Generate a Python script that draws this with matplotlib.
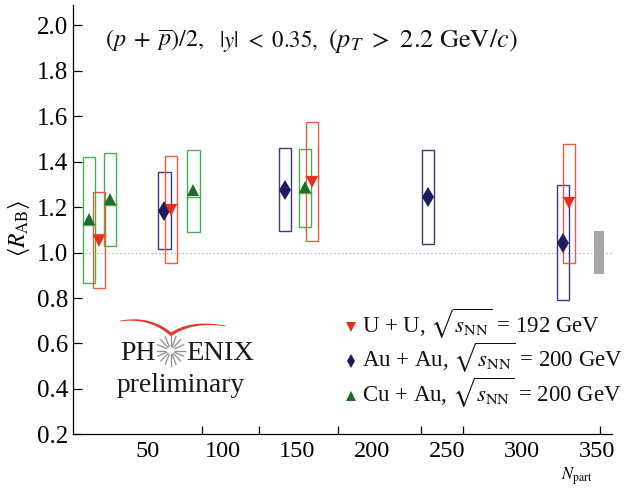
import numpy as np
import matplotlib
matplotlib.use("Agg")
import matplotlib.pyplot as plt
from matplotlib.patches import Rectangle, Polygon
from matplotlib.lines import Line2D
import matplotlib.transforms as mtransforms

plt.rcParams['font.family'] = ['Liberation Serif', 'DejaVu Serif']
plt.rcParams['mathtext.fontset'] = 'stix'

# ---------------- data ----------------
uu_npart = [17.5, 65.5, 159.6, 331.6]
uu_rab = [1.080, 1.214, 1.338, 1.246]
uu_sys_lo = [0.843, 0.953, 1.052, 0.955]
uu_sys_hi = [1.265, 1.425, 1.575, 1.479]

auau_npart = [61.3, 141.9, 237.4, 327.5]
auau_rab = [1.184, 1.275, 1.246, 1.043]
auau_sys_lo = [1.016, 1.095, 1.038, 0.791]
auau_sys_hi = [1.354, 1.461, 1.450, 1.297]

cuau_npart = [11.0, 24.8, 80.6, 155.1]
cuau_rab = [1.122, 1.209, 1.246, 1.261]
cuau_sys_lo = [0.865, 1.029, 1.090, 1.111]
cuau_sys_hi = [1.419, 1.437, 1.453, 1.456]

norm_npart = 351.5
norm_unc = 0.095

xtick_labels = [50, 100, 150, 200, 250, 300, 350]
xtick_marks = [50, 86.6, 124.6, 177.3, 232.5, 261, 352]
ytick_vals = [0.2, 0.4, 0.6, 0.8, 1.0, 1.2, 1.4, 1.6, 1.8, 2.0]

W, H = 631, 495
fig = plt.figure(figsize=(W / 100, H / 100), dpi=100)
ax = fig.add_axes([72.7 / W, 1 - 434.3 / H, (611.7 - 72.7) / W, (434.3 - 5) / H])
ax.set_xlim(0, 360)
ax.set_ylim(0.2, 2.09)

for s in ['top', 'right']:
    ax.spines[s].set_visible(False)
for s in ['left', 'bottom']:
    ax.spines[s].set_linewidth(0.9)

ax.set_yticks(ytick_vals)
ax.set_yticklabels([f"{v:.1f}" for v in ytick_vals])
ax.tick_params(axis='y', direction='in', length=6.5, width=0.9, labelsize=18, pad=3)
ax.set_xticks(xtick_labels)
ax.set_xticklabels([str(v) for v in xtick_labels])
ax.tick_params(axis='x', which='major', length=0, labelsize=17.5, pad=5)
ax.set_xticks(xtick_marks, minor=True)
ax.tick_params(axis='x', which='minor', direction='in', length=6, width=0.9)

# reference line at 1
ax.axhline(1.0, color='#b4b4b4', lw=0.8, ls=(0, (1.5, 2)), zorder=1)

box_w = 8.2
series = [
    (cuau_npart, cuau_rab, cuau_sys_lo, cuau_sys_hi, '#43b04e', '#1c6b2f', '^', 4.5),
    (auau_npart, auau_rab, auau_sys_lo, auau_sys_hi, '#3a3887', '#1f1c5e', 'd', 0.0),
    (uu_npart, uu_rab, uu_sys_lo, uu_sys_hi, '#f25a3c', '#e4301c', 'v', -4.5),
]
for npart, rab, lo, hi, bc, mc, mk, off in series:
    for x, y, l, h in zip(npart, rab, lo, hi):
        ax.add_patch(Rectangle((x - box_w / 2, l), box_w, h - l, fill=False,
                               ec=bc, lw=1.0, zorder=3))
        if mk != 'd':
            ax.plot([x - box_w / 2, x + box_w / 2], [y, y], color=bc, lw=1.0, zorder=3)
    tr = mtransforms.offset_copy(ax.transData, fig=fig, x=0, y=off, units='points')
    ms = 10.5 if mk == 'd' else 9
    ax.plot(npart, rab, ls='none', marker=mk, color=mc, ms=ms, mew=0,
            transform=tr, zorder=4)

# global normalisation uncertainty
ax.add_patch(Rectangle((norm_npart - 3.1, 1 - norm_unc), 6.2, 2 * norm_unc,
                       fc='#a9a6a6', ec='none', zorder=2))

def fx(x):
    return x / W

def fy(y):
    return 1 - y / H

# title (three chunks, wide spacing as in the original)
tkw = dict(va='baseline', ha='left', color='#111111')
fig.text(fx(105), fy(47), r'$(p\;+\;\overline{p})/2,$', fontsize=17.5, **tkw)
fig.text(fx(219), fy(47), r'$|y|\ <\ 0.35,$', fontsize=16.5, **tkw)
fig.text(fx(328), fy(47), r'$(p_T\ >\ 2.2\ \mathrm{GeV}/c)$', fontsize=19, **tkw)

# y label
fig.text(fx(19), fy(228), r'$\langle R_{\mathrm{AB}}\rangle$', rotation=90,
         fontsize=17, ha='center', va='center')
# x label
fig.text(fx(577), fy(480), r'$N_{\mathrm{part}}$', fontsize=12, ha='center', va='baseline')

# legend
leg = [
    ('#e4301c', 'v', r'U + U, $\sqrt{s_{\mathrm{NN}}}$ = 192 GeV', 333.3, 327),
    ('#1f1c5e', 'd', r'Au + Au, $\sqrt{s_{\mathrm{NN}}}$ = 200 GeV', 366.7, 361),
    ('#1c6b2f', '^', r'Cu + Au, $\sqrt{s_{\mathrm{NN}}}$ = 200 GeV', 401.7, 396),
]
for c, mk, lab, base, my in leg:
    fig.add_artist(Line2D([fx(350.7)], [fy(my)], marker=mk, color=c, ms=7 if mk == 'd' else 6.5,
                          mew=0, ls='none', transform=fig.transFigure))
    fig.text(fx(362), fy(base), lab, fontsize=16.5, va='baseline', ha='left', color='#111111')

# PHENIX logo
fig.text(fx(120), fy(360), 'PH', fontsize=20, va='baseline', ha='left', color='#1a1a1a')
fig.text(fx(186), fy(360), 'ENIX', fontsize=20.5, va='baseline', ha='left', color='#1a1a1a')
fig.text(fx(116.7), fy(391.7), 'preliminary', fontsize=19.8, va='baseline', ha='left', color='#1a1a1a')
cx, cy = 170.7, 350.5
for a in np.linspace(0, np.pi, 8, endpoint=False):
    dx, dy = np.cos(a), np.sin(a)
    fig.add_artist(Line2D([fx(cx - 14 * dx), fx(cx + 14 * dx)],
                          [fy(cy - 15 * dy), fy(cy + 15 * dy)],
                          color='#8e8e8e', lw=0.9, transform=fig.transFigure))
fig.add_artist(plt.Circle((fx(cx), fy(cy)), 3.5 / W, color='white', transform=fig.transFigure, zorder=5))

def bez(p0, p1, p2, n=40):
    t = np.linspace(0, 1, n)[:, None]
    return (1 - t) ** 2 * np.array(p0) + 2 * (1 - t) * t * np.array(p1) + t ** 2 * np.array(p2)

left = bez((120, 321), (150, 316), (171, 334))
right = bez((171, 334), (192, 320), (226, 326))
center = np.vstack([left, right[1:]])
thick = np.concatenate([np.linspace(0.7, 3.8, len(left)), np.linspace(3.8, 0.6, len(right))[1:]])
upper = center.copy(); upper[:, 1] -= thick * 0.4
lower = center.copy(); lower[:, 1] += thick * 0.6
pts = np.vstack([upper, lower[::-1]])
pts_f = np.column_stack([fx(pts[:, 0]), fy(pts[:, 1])])
fig.add_artist(Polygon(pts_f, closed=True, fc='#e03a2a', ec='none', transform=fig.transFigure))

fig.savefig('out.png', dpi=100)
